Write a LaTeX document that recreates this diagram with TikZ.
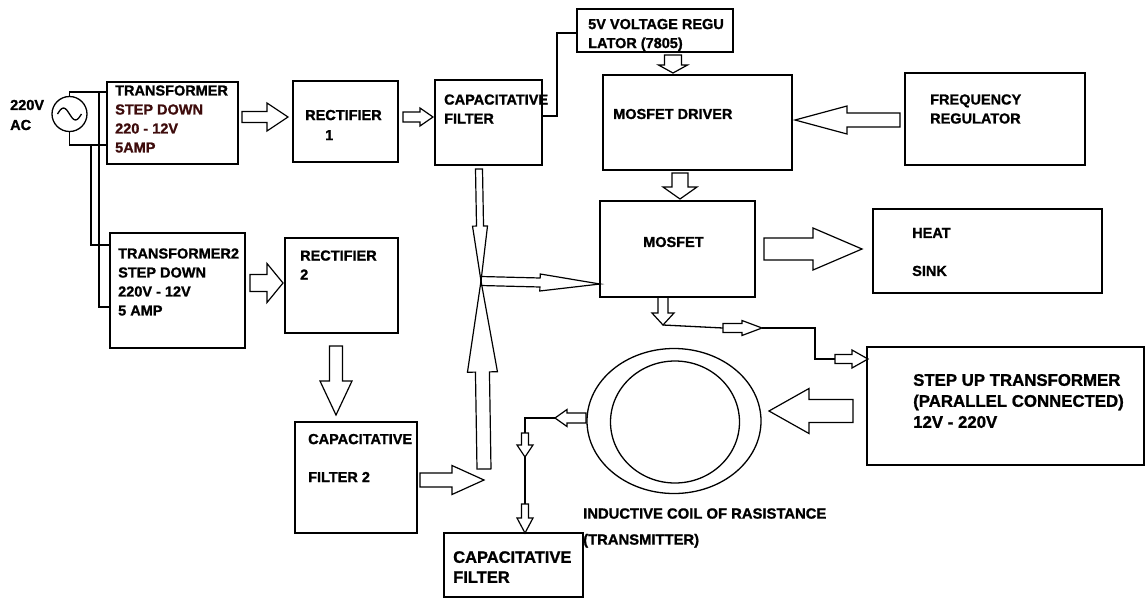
\documentclass[tikz,border=0pt]{standalone}
\usepackage{fontspec}
\setmainfont{Liberation Sans}[BoldFeatures={FakeBold=1.2}]
\usetikzlibrary{calc,shapes.geometric}
\definecolor{wineink}{RGB}{62,12,12}
\tikzset{
  blk/.style={draw, line width=1.6pt, anchor=north west, inner sep=0pt, outer sep=0pt},
  txt/.style={font=\bfseries\fontsize{14.5}{19}\selectfont, anchor=west, align=left, inner sep=0pt},
  wire/.style={line width=1.3pt},
  hollow/.style={draw, line width=1.2pt, line join=miter},
  ring/.style={draw, ellipse, line width=1.3pt, inner sep=0pt, outer sep=0pt}
}
% hollow block arrow: from, to, shaft half width, head half width, head length
\newcommand{\blockarrow}[5]{%
  \draw[hollow] ($(#1)!#3!90:(#2)$) -- ($(#2)!#5!(#1)!#3!-90:(#1)$)
    -- ($(#2)!#5!(#1)!#4!-90:(#1)$) -- (#2) -- ($(#2)!#5!(#1)!#4!90:(#1)$)
    -- ($(#2)!#5!(#1)!#3!90:(#1)$) -- ($(#1)!#3!-90:(#2)$) -- cycle;}

\begin{document}
\begin{tikzpicture}[x=1pt,y=-1pt]
  \useasboundingbox (0,0) rectangle (1146,598);

  % AC supply
  \node[draw, circle, line width=1.3pt, minimum size=35pt, inner sep=0pt, outer sep=0pt] (src) at (69.5,114) {};
  \draw[wire] ([xshift=-12pt]src.center) sin ++(6,-6) cos ++(6,6) sin ++(6,6) cos ++(6,-6);
  \node[txt, font=\bfseries\fontsize{14.5}{20}\selectfont] (srctxt) at (10,115) {220V\\AC};

  % blocks
  \node[blk, minimum width=131pt, minimum height=82pt] (trans1) at (107,82) {};
  \node[blk, minimum width=105pt, minimum height=81pt] (rect1) at (293,81) {};
  \node[blk, minimum width=107pt, minimum height=85pt] (capf1) at (435,80) {};
  \node[blk, minimum width=156pt, minimum height=43pt] (reg) at (577,9) {};
  \node[blk, minimum width=189pt, minimum height=95pt] (drv) at (603,75) {};
  \node[blk, minimum width=180pt, minimum height=92pt] (freq) at (905,73) {};
  \node[blk, minimum width=155pt, minimum height=96pt] (mosfet) at (600,201) {};
  \node[blk, minimum width=229pt, minimum height=84pt] (heat) at (873,209) {};
  \node[blk, minimum width=135pt, minimum height=115pt] (trans2) at (110,233) {};
  \node[blk, minimum width=113pt, minimum height=95pt] (rect2) at (285,238) {};
  \node[blk, minimum width=122pt, minimum height=111pt] (capf2) at (295,422) {};
  \node[blk, minimum width=277pt, minimum height=118pt] (stepup) at (867,347) {};
  \node[blk, minimum width=139pt, minimum height=64pt] (capf3) at (444,533) {};
  \node[ring, minimum width=174pt, minimum height=145pt] (coil) at (674,421) {};
  \node[ring, minimum width=129pt, minimum height=122pt] (coilcore) at (675,422) {};

  % block texts
  \node[txt] (trans1txt) at (115,119) {TRANSFORMER\\\textcolor{wineink}{STEP DOWN}\\\textcolor{wineink}{220 - 12V}\\\textcolor{wineink}{5AMP}};
  \node[txt] (rect1txt) at (305,125) {RECTIFIER\\[1pt]\hspace*{20pt}1};
  \node[txt] (capf1txt) at (444,109) {CAPACITATIVE\\FILTER};
  \node[txt] (regtxt) at (588,35) {5V VOLTAGE REGU\\LATOR (7805)};
  \node[txt] (drvtxt) at (613,114) {MOSFET DRIVER};
  \node[txt] (freqtxt) at (930,109) {FREQUENCY\\REGULATOR};
  \node[txt] (mosfettxt) at (643,242) {MOSFET};
  \node[txt] (heattxt) at (912,252) {HEAT\\[19pt]SINK};
  \node[txt] (trans2txt) at (118,282) {TRANSFORMER2\\STEP DOWN\\220V - 12V\\5 AMP};
  \node[txt] (rect2txt) at (300,265) {RECTIFIER\\2};
  \node[txt] (capf2txt) at (308,458) {CAPACITATIVE\\[19pt]FILTER 2};
  \node[txt, font=\bfseries\fontsize{16.8}{21}\selectfont] (stepuptxt) at (913,401) {STEP UP TRANSFORMER\\(PARALLEL CONNECTED)\\12V - 220V};
  \node[txt, font=\bfseries\fontsize{16.5}{20}\selectfont] (capf3txt) at (453,567) {CAPACITATIVE\\FILTER};
  \node[txt, font=\bfseries\fontsize{14.8}{19}\selectfont] (coiltxt) at (583,528) {INDUCTIVE COIL OF RASISTANCE\\[7pt](TRANSMITTER)};

  % free ends of the connectors
  \coordinate (junc) at (481,281);
  \coordinate (upfoot) at (484,469);
  \coordinate (feed) at (484,480);
  \coordinate (tap) at (663,325);
  \coordinate (m1) at (723,328);
  \coordinate (m2) at (762,328);
  \coordinate (m3) at (815,359);
  \coordinate (m4) at (835,359);
  \coordinate (coilout) at (555,418);
  \coordinate (d1) at (525,433);
  \coordinate (d2) at (525,457);
  \coordinate (d3) at (525,504);

  % supply wiring
  \draw[wire] (src.north) |- ([shift={(0,-31)}]trans1.west);
  \draw[wire] (src.south) |- ([shift={(0,22)}]trans1.west);
  \draw[wire] ([shift={(-8,-31)}]trans1.west) |- ([shift={(0,16.5)}]trans2.west);
  \draw[wire] ([shift={(-16,22)}]trans1.west) |- ([shift={(0,-45.5)}]trans2.west);
  \draw[wire] ([shift={(0,-6.5)}]capf1.east) -| ([shift={(-20,2.5)}]reg.west) -- ([shift={(0,2.5)}]reg.west);

  % upper chain
  \blockarrow{[shift={(4,-6)}]trans1.east}{[shift={(-5,-4.5)}]rect1.west}{5.5pt}{14pt}{21pt}
  \blockarrow{[shift={(5,-4.5)}]rect1.east}{[shift={(-2,-5.5)}]capf1.west}{5pt}{9pt}{13pt}
  \blockarrow{[shift={(18,3)}]reg.south}{[shift={(-24.5,-2)}]drv.north}{8.5pt}{14.5pt}{8pt}
  \blockarrow{[shift={(-5,1)}]freq.west}{[shift={(3,-2.5)}]drv.east}{7pt}{14pt}{52pt}
  \blockarrow{[shift={(-17.5,3)}]drv.south}{[shift={(2.5,-2)}]mosfet.north}{8pt}{17pt}{12pt}
  \blockarrow{[shift={(9,0)}]mosfet.east}{[shift={(-11,-2)}]heat.west}{11pt}{21pt}{49pt}

  % both filters meet and feed the mosfet
  \blockarrow{[shift={(-9.5,4)}]capf1.south}{junc}{3.5pt}{7.5pt}{55pt}
  \blockarrow{upfoot}{junc}{7pt}{15pt}{91pt}
  \blockarrow{junc}{[shift={(0,35)}]mosfet.west}{4.5pt}{8.5pt}{60pt}
  \blockarrow{[shift={(5,-7.5)}]trans2.east}{[shift={(-2,-2.5)}]rect2.west}{8.5pt}{19.5pt}{16pt}
  \blockarrow{[shift={(-5.5,13)}]rect2.south}{[shift={(-20,-7)}]capf2.north}{6.5pt}{16pt}{34pt}
  \blockarrow{[shift={(3,2.5)}]capf2.east}{feed}{7pt}{14.5pt}{32pt}

  % output stage
  \blockarrow{[shift={(-14.5,0)}]mosfet.south}{tap}{5pt}{11pt}{12pt}
  \draw[wire] (tap) -- (m1);
  \blockarrow{m1}{m2}{4.5pt}{7.5pt}{20pt}
  \draw[wire] (m2) -| (m3) -- (m4);
  \blockarrow{m4}{[shift={(1,-47)}]stepup.west}{4.5pt}{9pt}{16pt}
  \blockarrow{[shift={(-14,5)}]stepup.west}{[shift={(8,-10)}]coil.east}{11.5pt}{22.5pt}{40pt}
  \blockarrow{[shift={(-1,-3)}]coil.west}{coilout}{5pt}{8.5pt}{12pt}
  \draw[wire] (coilout) -| (d1);
  \blockarrow{d1}{d2}{3.5pt}{8pt}{12pt}
  \draw[wire] (d2) -- (d3);
  \blockarrow{d3}{[shift={(11.5,0)}]capf3.north}{3.5pt}{8pt}{15pt}
\end{tikzpicture}
\end{document}
